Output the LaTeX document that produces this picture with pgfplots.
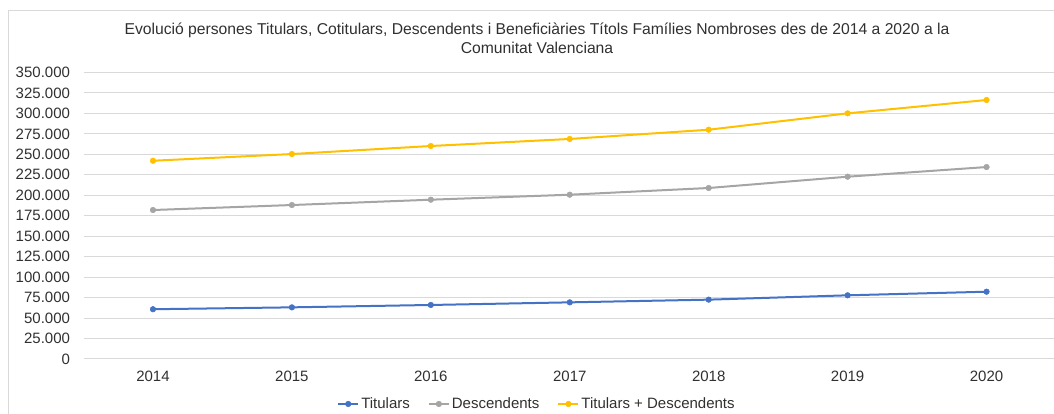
\documentclass[border=0pt]{standalone}
\usepackage{pgfplots}
\pgfplotsset{compat=1.18}
\usepackage{fontspec}
\setmainfont{Liberation Sans}
\definecolor{cBlue}{HTML}{4472C4}
\definecolor{cGray}{HTML}{A5A5A5}
\definecolor{cGold}{HTML}{FFC000}
\definecolor{cGrid}{HTML}{D9D9D9}
\definecolor{cText}{HTML}{303030}
\definecolor{cBorder}{HTML}{D9D9D9}
\begin{document}
\begin{tikzpicture}[x=1pt,y=1pt]
\useasboundingbox (0,0) rectangle (1054,414);
\draw[cBorder,line width=0.75pt] (8,-5) rectangle (1070,404);
\node[align=center,font=\fontsize{15.7}{19}\selectfont,text=cText] at (537,375.5)
  {Evolució persones Titulars, Cotitulars, Descendents i Beneficiàries Títols Famílies Nombroses des de 2014 a 2020 a la\\Comunitat Valenciana};
\begin{axis}[
  at={(83.5pt,55pt)}, anchor=south west,
  scale only axis, width=972.5pt, height=286.5pt,
  xmin=-0.5, xmax=6.5, ymin=0, ymax=350000,
  xtick={0,1,2,3,4,5,6},
  xticklabels={2014,2015,2016,2017,2018,2019,2020},
  ytick={0,25000,50000,75000,100000,125000,150000,175000,200000,225000,250000,275000,300000,325000,350000},
  scaled y ticks=false,
  /pgf/number format/.cd, 1000 sep={.}, fixed, precision=0, assume math mode=true,
  /pgfplots/.cd,
  ymajorgrids, major grid style={cGrid,line width=1pt},
  axis line style={draw=none},
  major tick length=0pt,
  tick label style={font=\fontsize{15}{17}\selectfont,text=cText},
  yticklabel style={xshift=-10pt},
  xticklabel style={yshift=-8pt},
  legend columns=3,
  legend style={at={(0.4663,-0.157)},anchor=center,draw=none,fill=none,
    font=\fontsize{15}{17}\selectfont,text=cText,
    /tikz/every even column/.append style={column sep=16pt}},
  legend image code/.code={\draw[mark repeat=2,mark phase=2] plot coordinates {(0pt,0pt) (10pt,0pt) (20pt,0pt)};},
  every axis plot/.append style={line width=2pt},
]
\addplot[cBlue, mark=*, mark size=2.8pt, mark options={solid,fill=cBlue,draw=cBlue,line width=0.5pt}] coordinates {
 (0,60800) (1,63100) (2,66000) (3,69200) (4,72500) (5,77800) (6,82200)};
\addlegendentry{Titulars}
\addplot[cGray, mark=*, mark size=2.8pt, mark options={solid,fill=cGray,draw=cGray,line width=0.5pt}] coordinates {
 (0,182000) (1,188100) (2,194600) (3,200700) (4,208900) (5,222700) (6,234500)};
\addlegendentry{Descendents}
\addplot[cGold, mark=*, mark size=2.8pt, mark options={solid,fill=cGold,draw=cGold,line width=0.5pt}] coordinates {
 (0,242200) (1,250400) (2,260200) (3,268800) (4,280100) (5,300100) (6,316400)};
\addlegendentry{Titulars + Descendents}
\end{axis}
\end{tikzpicture}
\end{document}
